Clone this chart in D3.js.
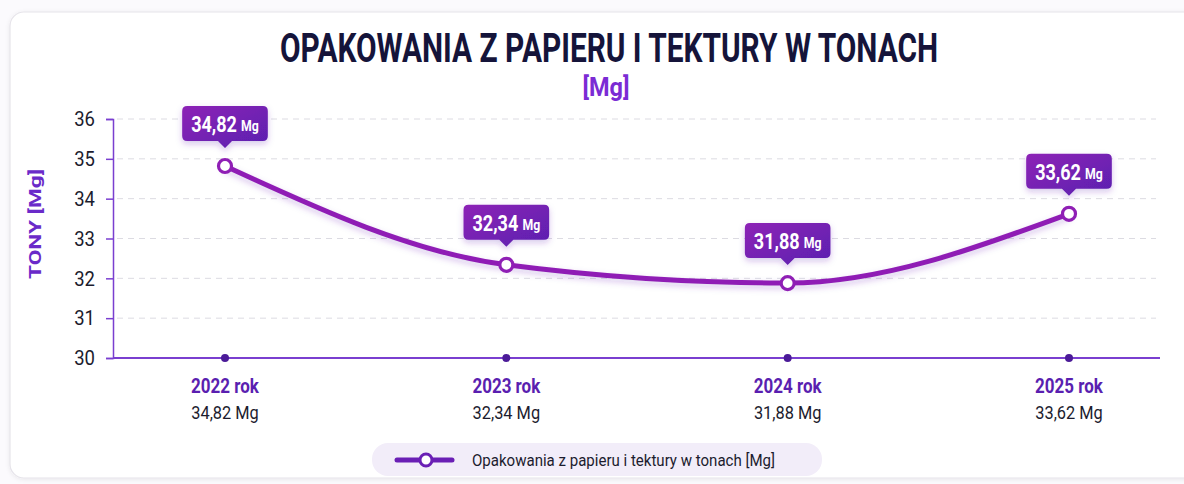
<!DOCTYPE html>
<html><head><meta charset="utf-8">
<script src="https://cdn.jsdelivr.net/npm/d3@7"></script>
<style>
html,body{margin:0;padding:0;background:#fbfafd;}
svg{display:block;}
</style></head>
<body>
<svg id="c" width="1184" height="484"></svg>
<script>
const categories = ["2022 rok","2023 rok","2024 rok","2025 rok"];
const values = [34.82, 32.34, 31.88, 33.62];
const valueLabels = ["34,82","32,34","31,88","33,62"];
const yTicks = [30,31,32,33,34,35,36];
const seriesName = "Opakowania z papieru i tektury w tonach [Mg]";

const svg = d3.select("#c");
const FONT = "Roboto,'Noto Sans',sans-serif";

function squeeze(sel, factor){
  sel.each(function(){
    const w = this.getComputedTextLength();
    d3.select(this).attr("textLength", w*factor).attr("lengthAdjust","spacingAndGlyphs");
  });
  return sel;
}

const defs = svg.append("defs");
const g1 = defs.append("linearGradient").attr("id","lblg").attr("x1","0").attr("y1","0").attr("x2","1").attr("y2","1");
g1.append("stop").attr("offset","0%").attr("stop-color","#8d22b6");
g1.append("stop").attr("offset","100%").attr("stop-color","#5a1fb0");
const f = defs.append("filter").attr("id","sh").attr("x","-30%").attr("y","-30%").attr("width","160%").attr("height","180%");
f.append("feDropShadow").attr("dx",0).attr("dy",3).attr("stdDeviation",3).attr("flood-color","#5a1fb0").attr("flood-opacity",0.25);
const f2 = defs.append("filter").attr("id","csh").attr("x","-5%").attr("y","-5%").attr("width","110%").attr("height","110%");
f2.append("feDropShadow").attr("dx",0).attr("dy",1).attr("stdDeviation",2).attr("flood-color","#000").attr("flood-opacity",0.08);

// card
svg.append("rect").attr("x",10).attr("y",12).attr("width",1190).attr("height",466).attr("rx",14)
  .attr("fill","#ffffff").attr("stroke","#e6e4ea").attr("stroke-width",1.2).attr("filter","url(#csh)");

// title
const title = svg.append("text").attr("x",609).attr("y",62).attr("text-anchor","middle")
  .attr("font-family",FONT).attr("font-weight","700").attr("font-size",40).attr("fill","#15143a")
  .text("OPAKOWANIA Z PAPIERU I TEKTURY W TONACH");
title.attr("textLength",658).attr("lengthAdjust","spacingAndGlyphs");
const sub = svg.append("text").attr("x",606).attr("y",96).attr("text-anchor","middle")
  .attr("font-family",FONT).attr("font-weight","700").attr("font-size",26).attr("fill","#7b2bd4")
  .text("[Mg]");
sub.attr("textLength",47).attr("lengthAdjust","spacingAndGlyphs");

const x = d3.scalePoint().domain(categories).range([225,1069]);
const y = d3.scaleLinear().domain([30,36]).range([358,119]);
const xL = 113, xR = 1160;

// grid
svg.append("g").selectAll("line").data(yTicks.filter(t=>t>30)).join("line")
  .attr("x1",xL+4).attr("x2",xR-4).attr("y1",d=>y(d)).attr("y2",d=>y(d))
  .attr("stroke","#dcdbe2").attr("stroke-width",1).attr("stroke-dasharray","6,5");

// y axis
const ya = svg.append("g").attr("transform",`translate(${xL},0)`)
  .call(d3.axisLeft(y).tickValues(yTicks).tickSize(7).tickPadding(11).tickFormat(d3.format("d")));
ya.select(".domain").attr("stroke","#7a3fd0").attr("stroke-width",1.5);
ya.selectAll(".tick line").attr("stroke","#7a3fd0").attr("stroke-width",1.5);
ya.selectAll(".tick text").attr("font-family",FONT).attr("font-size",21).attr("fill","#1c1c2e");
squeeze(ya.selectAll(".tick text"),0.88);

const yt = svg.append("text").attr("transform","translate(41,224) rotate(-90)").attr("text-anchor","middle")
  .attr("font-family",FONT).attr("font-weight","700").attr("font-size",17).attr("fill","#6a2ac9")
  .text("TONY [Mg]");
yt.attr("textLength",110).attr("lengthAdjust","spacingAndGlyphs");

// x axis
const xa = svg.append("g").attr("transform",`translate(0,358)`);
xa.append("line").attr("x1",xL).attr("x2",xR).attr("stroke","#7a3fd0").attr("stroke-width",1.8);
xa.selectAll("circle").data(categories).join("circle").attr("cx",d=>x(d)).attr("r",4).attr("fill","#4b1b98");
const ct = xa.selectAll("text.cat").data(categories).join("text").attr("class","cat")
  .attr("x",d=>x(d)).attr("y",35).attr("text-anchor","middle")
  .attr("font-family",FONT).attr("font-weight","700").attr("font-size",20).attr("fill","#5a1fb0").text(d=>d);
squeeze(ct,0.85);
const vt = xa.selectAll("text.val").data(categories).join("text").attr("class","val")
  .attr("x",d=>x(d)).attr("y",61).attr("text-anchor","middle")
  .attr("font-family",FONT).attr("font-size",19).attr("fill","#1c1c2e").text((d,i)=>valueLabels[i]+" Mg");
squeeze(vt,0.86);

// line
const pts = categories.map((c,i)=>[x(c), y(values[i])]);
svg.append("path").attr("d", d3.line().curve(d3.curveMonotoneX)(pts))
  .attr("fill","none").attr("stroke","#8f1fb5").attr("stroke-width",5).attr("stroke-linecap","round")
  .attr("filter","url(#sh)");
svg.append("g").selectAll("circle").data(pts).join("circle")
  .attr("cx",d=>d[0]).attr("cy",d=>d[1]).attr("r",6.5)
  .attr("fill","#fff").attr("stroke","#8f1fb5").attr("stroke-width",3.2);

// labels
const SX = 0.82;
pts.forEach((p,i)=>{
  const g = svg.append("g").attr("transform",`translate(${p[0]},${p[1]})`);
  const path = g.append("path");
  const tg = g.append("g").attr("transform",`scale(${SX},1)`);
  const t = tg.append("text").attr("y",-34).attr("text-anchor","middle").attr("font-family",FONT).attr("font-weight","700").attr("fill","#fff");
  t.append("tspan").attr("font-size",22).text(valueLabels[i]);
  t.append("tspan").attr("font-size",15).attr("dx",5).attr("dy",-1).text("Mg");
  const w = t.node().getComputedTextLength()*SX;
  const bw = w + 22, bh = 35, by = -60;
  path.attr("d",
    `M${-bw/2+5},${by} H${bw/2-5} Q${bw/2},${by} ${bw/2},${by+5} V${by+bh-5} Q${bw/2},${by+bh} ${bw/2-5},${by+bh} H7 L0,${by+bh+7} L-7,${by+bh} H${-bw/2+5} Q${-bw/2},${by+bh} ${-bw/2},${by+bh-5} V${by+5} Q${-bw/2},${by} ${-bw/2+5},${by} Z`)
    .attr("fill","url(#lblg)").attr("filter","url(#sh)");
});

// legend
const lg = svg.append("g");
lg.append("rect").attr("x",372).attr("y",443).attr("width",450).attr("height",33).attr("rx",16).attr("fill","#f2edf9");
lg.append("line").attr("x1",397).attr("x2",452).attr("y1",460).attr("y2",460).attr("stroke","#6a1fb5").attr("stroke-width",5).attr("stroke-linecap","round");
lg.append("circle").attr("cx",426).attr("cy",460).attr("r",6).attr("fill","#fff").attr("stroke","#6a1fb5").attr("stroke-width",3);
const ltx = lg.append("text").attr("x",472).attr("y",466).attr("font-family",FONT).attr("font-size",17).attr("fill","#1c1c2e").text(seriesName);
ltx.attr("textLength",303).attr("lengthAdjust","spacingAndGlyphs");
</script>
</body></html>
